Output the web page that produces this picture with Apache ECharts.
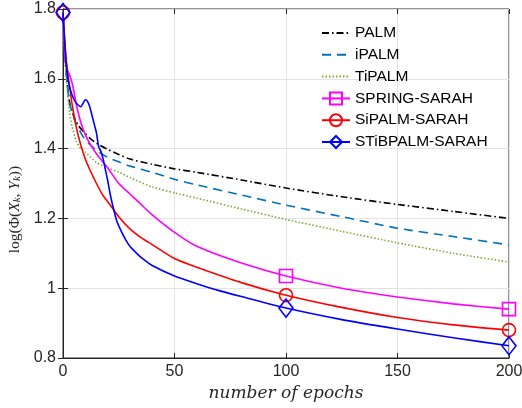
<!DOCTYPE html>
<html><head><meta charset="utf-8">
<script src="https://cdn.jsdelivr.net/npm/echarts@6/dist/echarts.min.js"></script>
<style>html,body{margin:0;padding:0;background:#fff}#c{width:522px;height:408px}</style>
</head><body><div id="c"></div>
<script>
// ---- data ----
const xTicks = [0, 50, 100, 150, 200];
const yTicks = [0.8, 1, 1.2, 1.4, 1.6, 1.8];
const seriesNames = ['PALM', 'iPALM', 'TiPALM', 'SPRING-SARAH', 'SiPALM-SARAH', 'STiBPALM-SARAH'];
const markerEpochs = [0, 100, 200];
const springMarkerEpochs = [100, 200];

const palmX = [0, 1, 2, 3, 5, 7, 9, 12, 15, 20, 25, 30, 40, 50, 60, 80, 100, 125, 150, 175, 200];
const palmY = [1.79, 1.66, 1.58, 1.53, 1.49, 1.465, 1.45, 1.43, 1.415, 1.398, 1.383, 1.370, 1.355, 1.342, 1.332, 1.310, 1.287, 1.262, 1.240, 1.220, 1.200];

const ipalmX = [0, 1, 2, 3, 5, 8, 10, 15, 20, 25, 30, 40, 50, 60, 80, 100, 125, 150, 175, 200];
const ipalmY = [1.79, 1.66, 1.58, 1.53, 1.485, 1.445, 1.425, 1.395, 1.375, 1.362, 1.350, 1.332, 1.312, 1.296, 1.267, 1.238, 1.205, 1.172, 1.148, 1.124];

const tipalmX = [0, 1, 2, 3, 4, 6, 8, 10, 15, 20, 25, 30, 40, 50, 60, 80, 100, 125, 150, 175, 200];
const tipalmY = [1.79, 1.64, 1.56, 1.50, 1.465, 1.42, 1.40, 1.39, 1.36, 1.345, 1.333, 1.317, 1.290, 1.273, 1.258, 1.227, 1.197, 1.163, 1.130, 1.100, 1.075];

const springX = [0, 1, 2, 3, 4, 5, 6, 8, 10, 12, 15, 20, 25, 30, 35, 40, 50, 60, 80, 100, 125, 150, 175, 200];
const springY = [1.79, 1.66, 1.625, 1.61, 1.59, 1.56, 1.525, 1.475, 1.44, 1.415, 1.385, 1.345, 1.30, 1.27, 1.24, 1.21, 1.16, 1.12, 1.072, 1.035, 1.0, 0.975, 0.955, 0.94];

const sipalmX = [0, 1, 2, 3, 4, 6, 8, 10, 12, 15, 18, 21, 25, 30, 35, 40, 50, 60, 80, 100, 125, 150, 175, 200];
const sipalmY = [1.79, 1.69, 1.62, 1.577, 1.53, 1.46, 1.41, 1.37, 1.34, 1.30, 1.265, 1.24, 1.205, 1.17, 1.145, 1.125, 1.085, 1.06, 1.016, 0.98, 0.945, 0.916, 0.895, 0.88];

const stibX = [0, 1, 2, 3, 4, 5, 6, 8, 10, 11, 12, 13, 14, 15, 16, 17, 18, 19, 20, 21, 22, 24, 26, 28, 30, 33, 36, 40, 50, 60, 70, 80, 100, 125, 150, 175, 200];
const stibY = [1.79, 1.68, 1.61, 1.575, 1.555, 1.54, 1.53, 1.52, 1.54, 1.535, 1.52, 1.495, 1.47, 1.445, 1.405, 1.392, 1.37, 1.34, 1.31, 1.275, 1.245, 1.195, 1.165, 1.14, 1.12, 1.10, 1.083, 1.065, 1.035, 1.013, 0.993, 0.976, 0.943, 0.91, 0.883, 0.858, 0.835];

// ---- build ----
function pts(xs, ys, marks) {
  return xs.map((x, i) => {
    const d = { value: [x, ys[i]] };
    if (marks && marks.indexOf(x) < 0) d.symbol = 'none';
    return d;
  });
}
const defs = [
  { x: palmX, y: palmY, color: '#000000', type: [7, 3, 1.5, 3], sym: null },
  { x: ipalmX, y: ipalmY, color: '#0072BD', type: [9, 6], sym: null },
  { x: tipalmX, y: tipalmY, color: '#77AC30', type: [1.5, 2], sym: null },
  { x: springX, y: springY, color: '#FF00FF', type: 'solid', sym: 'rect', marks: springMarkerEpochs },
  { x: sipalmX, y: sipalmY, color: '#FF0000', type: 'solid', sym: 'circle', marks: markerEpochs },
  { x: stibX, y: stibY, color: '#0000FF', type: 'solid', sym: 'diamond', marks: markerEpochs }
];
const series = defs.map((d, i) => ({
  name: seriesNames[i],
  type: 'line',
  data: pts(d.x, d.y, d.marks),
  symbol: d.sym || 'none',
  symbolSize: d.sym === 'diamond' ? [14, 18] : 13,
  showSymbol: !!d.sym,
  showAllSymbol: true,
  smooth: 0.2,
  clip: false,
  z: 2 + i,
  lineStyle: { color: d.color, width: 1.6, type: d.type },
  itemStyle: d.sym
    ? { color: 'rgba(255,255,255,0)', borderColor: d.color, borderWidth: 1.6 }
    : { color: 'rgba(255,255,255,0)', borderColor: 'rgba(255,255,255,0)', borderWidth: 0 },
  emphasis: { disabled: true },
  animation: false
}));

const chart = echarts.init(document.getElementById('c'), null, { renderer: 'canvas' });
const axisCol = '#262626';
const lab = { fontFamily: 'Liberation Sans, Arial, sans-serif', fontSize: 16, color: '#262626' };
const serif = 'Liberation Serif, DejaVu Serif, serif';
chart.setOption({
  animation: false,
  backgroundColor: '#fff',
  grid: { left: 63, right: 13, top: 9, bottom: 50, containLabel: false, outerBoundsMode: 'none',
          show: true, borderColor: axisCol, borderWidth: 1 },
  xAxis: [{
    type: 'value', min: 0, max: 200, interval: 50,
    axisLine: { show: true, lineStyle: { color: axisCol } },
    axisTick: { show: true, inside: true, length: 5, lineStyle: { color: axisCol } },
    axisLabel: Object.assign({ margin: 6 }, lab),
    splitLine: { show: true, lineStyle: { color: '#e3e3e3', width: 1 } },
    name: 'number of epochs', nameLocation: 'middle', nameGap: 27, nameMoveOverlap: false,
    nameTextStyle: { fontFamily: 'DejaVu Serif, serif', fontStyle: 'italic', fontSize: 17, color: '#262626' }
  }, {
    type: 'value', min: 0, max: 200, interval: 50, position: 'top',
    axisLine: { show: false }, axisLabel: { show: false }, splitLine: { show: false },
    axisTick: { show: true, inside: true, length: 5, lineStyle: { color: axisCol } }
  }],
  yAxis: [{
    type: 'value', min: 0.8, max: 1.8, interval: 0.2,
    axisLine: { show: true, lineStyle: { color: axisCol } },
    axisTick: { show: true, inside: true, length: 5, lineStyle: { color: axisCol } },
    axisLabel: Object.assign({ margin: 7, formatter: v => String(+v.toFixed(1)) }, lab),
    splitLine: { show: true, lineStyle: { color: '#e3e3e3', width: 1 } },
    name: '{a|log(Φ(}{i|X}{s|k}{a|, }{i|Y}{s|k}{a|))}', nameLocation: 'middle', nameGap: 48, nameRotate: 90,
    nameMoveOverlap: false,
    nameTextStyle: {
      align: 'center', verticalAlign: 'middle', padding: [0, 52, 0, 0],
      rich: {
        a: { fontFamily: serif, fontSize: 15.5, color: '#262626' },
        i: { fontFamily: serif, fontStyle: 'italic', fontSize: 15.5, color: '#262626' },
        s: { fontFamily: serif, fontStyle: 'italic', fontSize: 11, color: '#262626', verticalAlign: 'bottom' }
      }
    }
  }, {
    type: 'value', min: 0.8, max: 1.8, interval: 0.2, position: 'right',
    axisLine: { show: false }, axisLabel: { show: false }, splitLine: { show: false },
    axisTick: { show: true, inside: true, length: 5, lineStyle: { color: axisCol } }
  }],
  legend: {
    orient: 'vertical', left: 316, top: 20,
    itemWidth: 28, itemHeight: 15, itemGap: 5.8,
    textStyle: { fontFamily: 'Liberation Sans, Arial, sans-serif', fontSize: 15.5, color: '#000' },
    data: seriesNames, selectedMode: false
  },
  series: series
});
</script></body></html>
